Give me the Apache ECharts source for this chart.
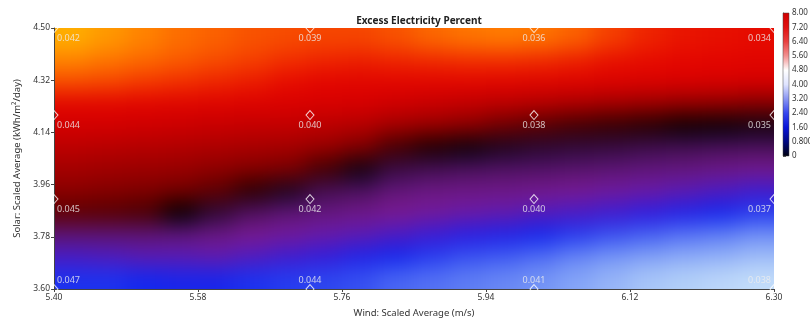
<!DOCTYPE html>
<html lang="en">
<head>
<meta charset="UTF-8" />
<title>Excess Electricity Percent</title>
<script src="https://cdn.jsdelivr.net/npm/echarts@6/dist/echarts.min.js"></script>
<style>
    * { margin: 0; padding: 0; }
    body { background: #fff; }
    #box { position: relative; width: 810px; height: 324px; }
    /* plot area window: the shaded surface is softened with a blur like the original contour */
    #surfaceClip { position: absolute; left: 54px; top: 28px; width: 720px; height: 261px; overflow: hidden; }
    #surface { position: absolute; left: -54px; top: -28px; width: 810px; height: 324px; filter: blur(11px); }
    #main { position: absolute; left: 0; top: 0; width: 810px; height: 324px; }
</style>
</head>
<body>
<div id="box">
    <div id="surfaceClip"><div id="surface"></div></div>
    <div id="main"></div>
</div>
<script>
    // sensitivity cases (the diamonds)
    const windCases = [5.40, 5.72, 6.00, 6.30];
    const solarCases = [4.50, 4.20, 3.91, 3.60];
    // value printed under each diamond, rows follow solarCases, cols follow windCases
    const caseLabels = [
        ["0.042", "0.039", "0.036", "0.034"],
        ["0.044", "0.040", "0.038", "0.035"],
        ["0.045", "0.042", "0.040", "0.037"],
        ["0.047", "0.044", "0.041", "0.038"],
    ];

    // shaded surface, top row = solar 4.50, left col = wind 5.40
    const excessField = [
        [9.85, 9.7, 9.55, 9.4, 9.3, 9.2, 9.15, 9.1, 9.1, 9.2, 9.35, 9.45, 9.5, 9.45, 9.3, 9.05, 8.8, 8.65, 8.6, 8.55],
        [9.55, 9.45, 9.35, 9.25, 9.15, 9.05, 8.9, 8.8, 8.75, 8.8, 8.85, 8.9, 8.9, 8.85, 8.75, 8.6, 8.55, 8.5, 8.45, 8.4],
        [9.15, 9.1, 9.0, 8.9, 8.8, 8.7, 8.55, 8.45, 8.4, 8.4, 8.4, 8.4, 8.35, 8.3, 8.25, 8.2, 8.15, 8.1, 8.05, 8.0],
        [8.4, 8.4, 8.35, 8.3, 8.25, 8.2, 8.1, 8.05, 8.0, 7.9, 7.8, 7.7, 7.6, 7.5, 7.4, 7.3, 7.2, 7.1, 7.05, 6.95],
        [7.95, 7.95, 7.9, 7.85, 7.8, 7.75, 7.7, 7.6, 7.5, 7.3, 7.15, 7.0, 6.75, 6.55, 6.4, 6.3, 6.2, 6.05, 5.95, 5.85],
        [7.6, 7.55, 7.5, 7.45, 7.4, 7.35, 7.3, 7.15, 6.9, 6.4, 6.15, 5.9, 5.7, 5.55, 5.45, 5.35, 5.2, 5.1, 5.0, 4.95],
        [7.3, 7.25, 7.2, 7.15, 7.05, 6.95, 6.85, 6.4, 5.85, 5.3, 5.1, 4.95, 4.85, 4.8, 4.7, 4.6, 4.5, 4.4, 4.25, 4.1],
        [7.0, 6.95, 6.9, 6.8, 6.6, 6.25, 5.7, 5.1, 4.9, 4.5, 4.3, 4.25, 4.2, 4.1, 3.95, 3.75, 3.55, 3.3, 3.05, 2.8],
        [6.6, 6.55, 6.45, 6.0, 5.5, 4.9, 4.6, 4.4, 4.2, 4.0, 3.8, 3.55, 3.4, 3.15, 2.95, 2.75, 2.5, 2.2, 2.0, 1.8],
        [4.6, 4.6, 4.6, 4.5, 4.3, 4.0, 3.8, 3.5, 3.3, 3.0, 2.7, 2.4, 2.2, 2.0, 1.8, 1.6, 1.45, 1.3, 1.2, 1.05],
        [3.0, 3.1, 3.3, 3.3, 3.4, 3.1, 2.8, 2.6, 2.2, 2.0, 1.8, 1.6, 1.5, 1.35, 1.15, 1.0, 0.9, 0.8, 0.75, 0.65],
        [1.9, 1.9, 2.0, 2.1, 2.1, 1.9, 1.8, 1.7, 1.6, 1.4, 1.3, 1.2, 1.1, 1.0, 0.85, 0.7, 0.55, 0.45, 0.35, 0.25],
    ];
    // surface palette, evenly spaced over 0..10
    const fieldColors = [
        "#d8eefc", "#aecbf8", "#7494f6", "#3e5af2", "#1428ee", "#2c1ce0", "#4c1ac4",
        "#6a1aa8", "#7a1a90", "#62167a", "#48105a", "#2a0a36", "#000000", "#500000",
        "#8a0000", "#b40000", "#d60000", "#e40600", "#f43800", "#ff7c00", "#ffc400",
    ];

    const windMin = 5.40, windMax = 6.30, solarMin = 3.60, solarMax = 4.50;
    const colorbarMax = 8;
    const plotGrid = { left: 54, right: 36, top: 28, bottom: 35, outerBoundsMode: "none" };
    var font = "Noto Sans";

    // cells of the surface in axis units
    const nRows = excessField.length, nCols = excessField[0].length;
    const cw = (windMax - windMin) / nCols, ch = (solarMax - solarMin) / nRows;
    let cells = [];
    excessField.forEach((row, r) => {
        row.forEach((v, c) => {
            cells.push([windMin + c * cw, solarMax - (r + 1) * ch, windMin + (c + 1) * cw, solarMax - r * ch, v]);
        });
    });

    function renderCell(params, api) {
        var a = api.coord([api.value(0), api.value(1)]);
        var b = api.coord([api.value(2), api.value(3)]);
        var x0 = a[0], x1 = b[0] + 1, y0 = b[1], y1 = a[1] + 1;
        // stretch border cells past the window so the blur does not fade the edges
        if (api.value(0) <= windMin + 1e-9) x0 -= 35;
        if (api.value(2) >= windMax - 1e-9) x1 += 35;
        if (api.value(3) >= solarMax - 1e-9) y0 -= 35;
        if (api.value(1) <= solarMin + 1e-9) y1 += 35;
        return {
            type: "rect",
            shape: { x: x0, y: y0, width: x1 - x0, height: y1 - y0 },
            style: { fill: api.visual("color") },
        };
    }

    var surfaceChart = echarts.init(document.getElementById("surface"));
    surfaceChart.setOption({
        animation: false,
        visualMap: {
            show: false, type: "continuous", dimension: 4,
            min: 0, max: 10, inRange: { color: fieldColors },
        },
        grid: plotGrid,
        xAxis: { type: "value", min: windMin, max: windMax, show: false },
        yAxis: { type: "value", min: solarMin, max: solarMax, show: false },
        series: [{
            type: "custom",
            renderItem: renderCell,
            encode: { x: [0, 2], y: [1, 3] },
            clip: false,
            data: cells,
        }],
    });

    // diamonds + labels
    let points = [];
    solarCases.forEach((s, r) => {
        windCases.forEach((w, c) => {
            let last = c == windCases.length - 1;
            let bottom = r == solarCases.length - 1;
            points.push({
                value: [w, s],
                label: {
                    formatter: caseLabels[r][c],
                    align: c == 0 ? "left" : (last ? "right" : "center"),
                    offset: [c == 0 ? 3 : (last ? -3 : 0), bottom ? -9 : 10],
                },
            });
        });
    });

    function renderColorbar(params, api) {
        var a = api.coord([0, 0]);
        var b = api.coord([1, api.value(0)]);
        return {
            type: "rect",
            shape: { x: a[0], y: b[1], width: b[0] - a[0], height: a[1] - b[1] },
            style: {
                stroke: "#444",
                lineWidth: 0.5,
                fill: new echarts.graphic.LinearGradient(0, 0, 0, 1, [
                    { offset: 0, color: "#d00000" },
                    { offset: 0.1, color: "#e01010" },
                    { offset: 0.2, color: "#e84040" },
                    { offset: 0.3, color: "#f29090" },
                    { offset: 0.4, color: "#ffffff" },
                    { offset: 0.5, color: "#dfe4ff" },
                    { offset: 0.6, color: "#8a96f2" },
                    { offset: 0.7, color: "#3646ee" },
                    { offset: 0.8, color: "#0814d8" },
                    { offset: 0.9, color: "#000880" },
                    { offset: 1, color: "#000010" },
                ]),
            },
        };
    }

    var myChart = echarts.init(document.getElementById("main"));
    var option = {
        backgroundColor: "transparent",
        textStyle: { fontFamily: font },
        animation: false,
        title: {
            text: "Excess Electricity Percent",
            left: 414,
            top: 11,
            textAlign: "center",
            textStyle: { fontSize: 10, fontWeight: "bold", color: "#222", fontFamily: font },
        },
        grid: [
            plotGrid,
            { left: 783, width: 6, top: 13, height: 143, outerBoundsMode: "none" },
        ],
        xAxis: [
            {
                type: "value", gridIndex: 0,
                min: windMin, max: windMax, interval: 0.18,
                name: "Wind: Scaled Average (m/s)",
                nameLocation: "middle", nameGap: 19,
                nameTextStyle: { fontSize: 9.5, color: "#333" },
                axisLine: { lineStyle: { color: "#444" } },
                axisTick: { length: 3, lineStyle: { color: "#444" } },
                axisLabel: { fontSize: 8.5, color: "#333", margin: 4, formatter: (v) => v.toFixed(2) },
                splitLine: { show: false },
            },
            { type: "value", gridIndex: 1, min: 0, max: 1, show: false },
        ],
        yAxis: [
            {
                type: "value", gridIndex: 0,
                min: solarMin, max: solarMax, interval: 0.18,
                name: "Solar: Scaled Average (kWh/m²/day)",
                nameLocation: "middle", nameGap: 30,
                nameTextStyle: { fontSize: 9.5, color: "#333" },
                axisLine: { show: true, lineStyle: { color: "#444" } },
                axisTick: { show: true, length: 3, lineStyle: { color: "#444" } },
                axisLabel: { fontSize: 8.5, color: "#333", margin: 4, formatter: (v) => v.toFixed(2) },
                splitLine: { show: false },
            },
            {
                type: "value", gridIndex: 1, position: "right",
                min: 0, max: colorbarMax, interval: 0.8,
                axisLine: { show: true, lineStyle: { color: "#555" } },
                axisTick: { show: true, length: 3, lineStyle: { color: "#555" } },
                axisLabel: {
                    fontSize: 8, color: "#333", margin: 3,
                    formatter: (v) => (v == 0 ? "0" : (v < 1 ? v.toFixed(3) : v.toFixed(2))),
                },
                splitLine: { show: false },
            },
        ],
        series: [
            {
                type: "scatter",
                xAxisIndex: 0, yAxisIndex: 0,
                symbol: "diamond",
                symbolSize: [8, 9],
                itemStyle: { color: "rgba(0,0,0,0)", borderColor: "#fff", borderWidth: 1 },
                label: { show: true, position: "inside", color: "#eee", fontSize: 9, verticalAlign: "middle" },
                data: points,
                z: 3,
            },
            {
                type: "custom",
                xAxisIndex: 1, yAxisIndex: 1,
                renderItem: renderColorbar,
                encode: { y: 0 },
                data: [[colorbarMax]],
            },
        ],
    };
    myChart.setOption(option);
</script>
</body>
</html>
